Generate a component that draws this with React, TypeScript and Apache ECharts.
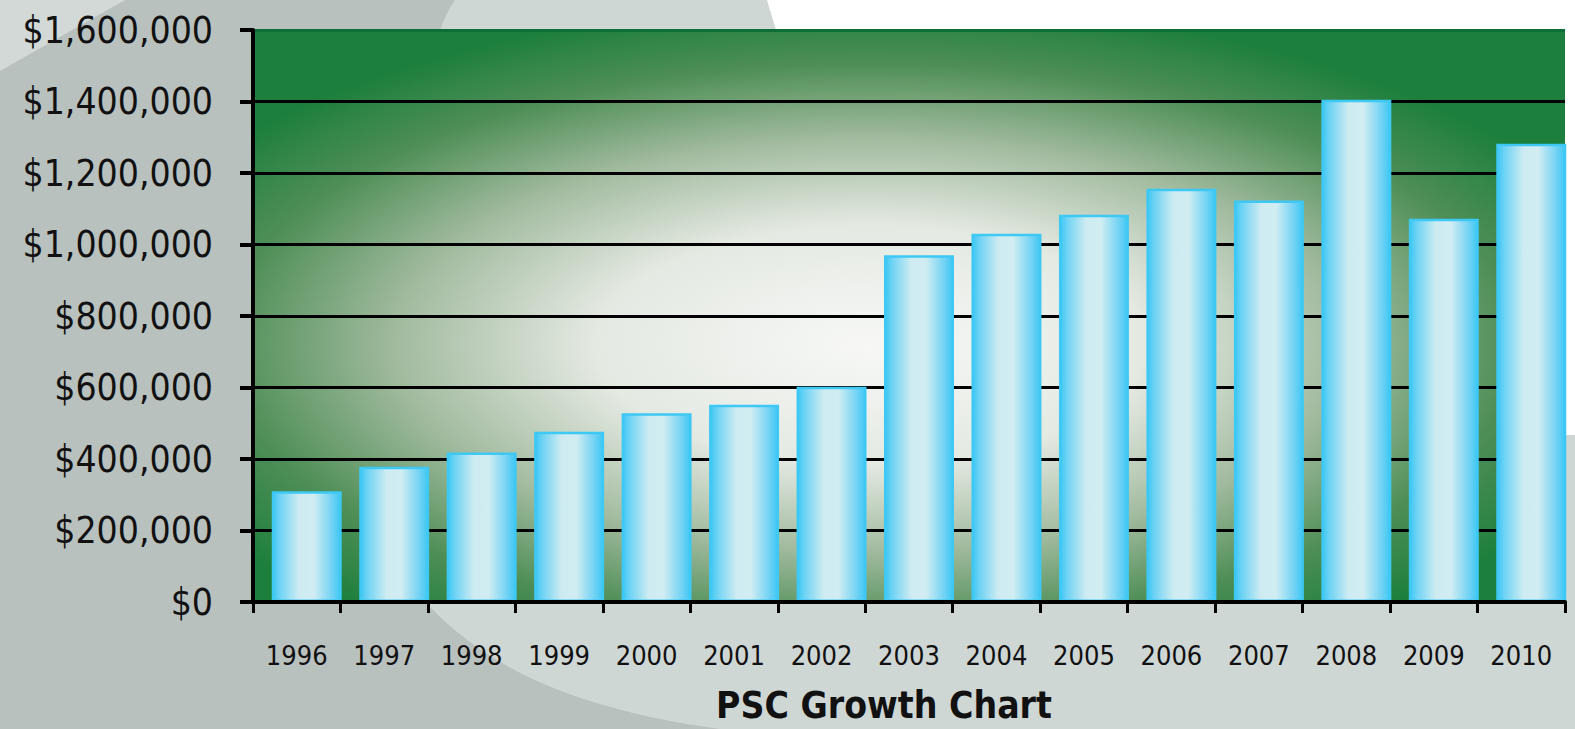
import React, { useEffect, useRef } from "react";
import * as echarts from "echarts";

const years = ["1996","1997","1998","1999","2000","2001","2002","2003","2004","2005","2006","2007","2008","2009","2010"];
const revenue = [310000, 378000, 418000, 476000, 528000, 552000, 602000, 970000, 1030000, 1083000, 1156000, 1123000, 1405000, 1072000, 1282000];
const yTicks = { min: 0, max: 1600000, interval: 200000 };
const chartTitle = "PSC Growth Chart";

const FONT = "'Liberation Sans Narrow', 'DejaVu Sans Condensed', 'Roboto', sans-serif";

echarts.graphic.registerShape(
  "bgLight",
  echarts.graphic.extendPath(
    "M455,0 C400,80 360,450 430,607 C500,680 600,712 720,729 L1575,729 L1575,0 Z",
    {}
  )
);
echarts.graphic.registerShape(
  "bgWhite",
  echarts.graphic.extendPath(
    "M767,0 L1575,0 L1575,435 L1560,435 C1200,330 820,200 776,30 Z",
    {}
  )
);

export default function App() {
  const ref = useRef<HTMLDivElement>(null);
  useEffect(() => {
    if (!ref.current) return;
    const chart = echarts.init(ref.current, null, { renderer: "svg" });
    const splitColors = ["#000", "#000", "#000", "#000", "#000", "#000", "#000", "#000", "#0e6e38"];
    chart.setOption({
      animation: false,
      backgroundColor: "#b9c1be",
      graphic: [
        { type: "bgLight", x: 0, y: 0, z: -10, silent: true, style: { fill: "#cfd7d5" } },
        { type: "bgWhite", x: 0, y: 0, z: -10, silent: true, style: { fill: "#ffffff" } },
        {
          type: "polygon",
          z: -10,
          silent: true,
          shape: { points: [[0, 0], [125, 0], [0, 71]] },
          style: { fill: "#d2d9d7" },
        },
      ],
      title: {
        text: chartTitle,
        left: 879,
        top: 682,
        textAlign: "center",
        textStyle: { fontFamily: FONT, fontSize: 37, fontWeight: "bold", color: "#111" },
      },
      grid: [
        {
          left: 253,
          right: 10,
          top: 30,
          bottom: 127,
          show: true,
          borderWidth: 0,
          outerBoundsMode: "none",
          containLabel: false,
          backgroundColor: {
            type: "radial",
            x: 0.47,
            y: 0.55,
            r: 0.6,
            colorStops: [
              { offset: 0, color: "#f7f8f6" },
              { offset: 0.35, color: "#e4e9e2" },
              { offset: 0.6, color: "#a2bb9f" },
              { offset: 0.82, color: "#4e8e56" },
              { offset: 1, color: "#1d7f3d" },
            ],
          },
        },
        {
          left: 263,
          right: 0,
          top: 30,
          bottom: 127,
          show: false,
          outerBoundsMode: "none",
          containLabel: false,
        },
      ],
      xAxis: [
        {
          type: "category",
          gridIndex: 0,
          data: years,
          boundaryGap: true,
          axisLine: { show: true, lineStyle: { color: "#000", width: 4 } },
          axisTick: { show: true, length: 11, lineStyle: { color: "#000", width: 3 } },
          axisLabel: { interval: 0, margin: 40, fontFamily: FONT, fontSize: 27, color: "#111" },
          z: 5,
        },
        {
          type: "category",
          gridIndex: 1,
          data: years,
          boundaryGap: true,
          show: false,
        },
      ],
      yAxis: [
        {
          type: "value",
          gridIndex: 0,
          min: yTicks.min,
          max: yTicks.max,
          interval: yTicks.interval,
          axisLine: { show: true, lineStyle: { color: "#000", width: 4 } },
          axisTick: { show: true, length: 13, lineStyle: { color: "#000", width: 4 } },
          axisLabel: {
            margin: 40,
            fontFamily: FONT,
            fontSize: 37,
            color: "#111",
            formatter: (v: number) => "$" + v.toLocaleString("en-US"),
          },
          splitLine: { show: true, lineStyle: { color: splitColors, width: 3 } },
        },
        {
          type: "value",
          gridIndex: 1,
          min: yTicks.min,
          max: yTicks.max,
          interval: yTicks.interval,
          show: false,
          splitLine: { show: false },
        },
      ],
      series: [
        {
          type: "bar",
          xAxisIndex: 1,
          yAxisIndex: 1,
          data: revenue,
          barCategoryGap: "20%",
          itemStyle: {
            borderColor: "#3ec8f4",
            borderWidth: 2.5,
            color: {
              type: "linear",
              x: 0,
              y: 0,
              x2: 1,
              y2: 0,
              colorStops: [
                { offset: 0, color: "#3ec7f4" },
                { offset: 0.1, color: "#6dd3f4" },
                { offset: 0.38, color: "#cdebf1" },
                { offset: 0.6, color: "#d2edf2" },
                { offset: 0.88, color: "#6fd2f4" },
                { offset: 1, color: "#3ec7f4" },
              ],
            },
          },
        },
      ],
    });
    return () => chart.dispose();
  }, []);
  return <div ref={ref} style={{ position: "fixed", left: 0, top: 0, width: 1575, height: 729 }} />;
}
